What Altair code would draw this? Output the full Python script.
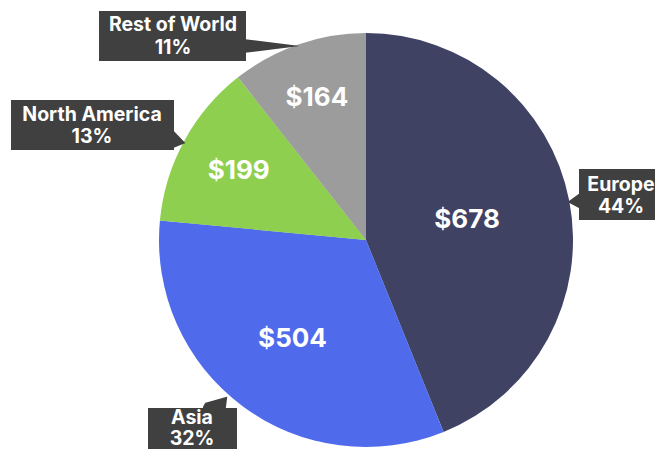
import math
import altair as alt
import pandas as pd

# ---- data ----
regions = ["Europe", "Asia", "North America", "Rest of World"]
sales = [678, 504, 199, 164]
value_labels = ["$678", "$504", "$199", "$164"]
percent_labels = ["44%", "32%", "13%", "11%"]
colors = ["#3f4263", "#4f6bec", "#8fcf4f", "#9c9c9c"]

# ---- layout (pixels, chart coordinates) ----
W, H = 647, 441
CX, CY, R = 358, 232, 207
value_label_radius = [103, 123, 145, 150]
box_x0 = [571, 140, 3, 91]
box_x1 = [663, 229, 166, 238]
box_y0 = [161, 400, 92, 3]
box_y1 = [212, 457, 142, 53]
text_x = [613, 184, 84, 165]
text_y1 = [177, 410, 107, 17]
text_y2 = [199, 431, 129, 40]
ptr_start = [(574, 193), (207, 403), (163, 132), (235, 38)]
ptr_width = [18, 25, 20, 14]
ptr_tip = [(560, 194), (219, 389), (177, 135), (290, 38)]

pie_df = pd.DataFrame({
    "region": regions,
    "sales": sales,
    "value_label": value_labels,
    "order": list(range(len(regions))),
    "lr": value_label_radius,
})
total = float(sum(sales))
cum = pie_df["sales"].cumsum() - pie_df["sales"] / 2.0
mid = cum / total * 2 * math.pi
pie_df["lx"] = CX + pie_df["lr"] * mid.apply(math.sin)
pie_df["ly"] = CY - pie_df["lr"] * mid.apply(math.cos)

box_df = pd.DataFrame({
    "region": regions,
    "x0": box_x0, "x1": box_x1, "y0": box_y0, "y1": box_y1,
    "tx": text_x, "ty1": text_y1, "ty2": text_y2,
    "pct": percent_labels,
})

ptr_rows = []
for i, reg in enumerate(regions):
    ptr_rows.append({"region": reg, "k": 0, "x": ptr_start[i][0], "y": ptr_start[i][1], "w": ptr_width[i]})
    ptr_rows.append({"region": reg, "k": 1, "x": ptr_tip[i][0], "y": ptr_tip[i][1], "w": 0.5})
ptr_df = pd.DataFrame(ptr_rows)

color_scale = alt.Scale(domain=regions, range=colors)

shadow_df = pd.DataFrame({"a": [0, 1], "r": [R + 4, R + 1.5], "op": [0.05, 0.09]})
shadow = alt.Chart(shadow_df).mark_circle(color="#000000", strokeWidth=0).encode(
    x=alt.value(CX),
    y=alt.value(CY + 2),
    size=alt.Size("s:Q", scale=None, legend=None),
    opacity=alt.Opacity("op:Q", scale=None, legend=None),
).transform_calculate(s="PI * datum.r * datum.r")

pie = alt.Chart(pie_df).mark_arc(outerRadius=R, strokeWidth=0).encode(
    x=alt.value(CX),
    y=alt.value(CY),
    theta=alt.Theta("sales:Q", stack=True),
    order=alt.Order("order:Q"),
    color=alt.Color("region:N", scale=color_scale, legend=None),
)

vals = alt.Chart(pie_df).mark_text(
    font="Inter", fontWeight="bold", fontSize=26, color="white",
    align="center", baseline="middle",
).encode(
    x=alt.X("lx:Q", scale=None, axis=None),
    y=alt.Y("ly:Q", scale=None, axis=None),
    text="value_label:N",
)

pointers = alt.Chart(ptr_df).mark_trail(color="#404040").encode(
    x=alt.X("x:Q", scale=None, axis=None),
    y=alt.Y("y:Q", scale=None, axis=None),
    size=alt.Size("w:Q", scale=None, legend=None),
    detail="region:N",
    order="k:Q",
)

boxes = alt.Chart(box_df).mark_rect(color="#404040").encode(
    x=alt.X("x0:Q", scale=None, axis=None),
    x2="x1:Q",
    y=alt.Y("y0:Q", scale=None, axis=None),
    y2="y1:Q",
)

line1 = alt.Chart(box_df).mark_text(
    font="Inter", fontWeight="bold", fontSize=19.5, color="white",
    align="center", baseline="middle",
).encode(
    x=alt.X("tx:Q", scale=None, axis=None),
    y=alt.Y("ty1:Q", scale=None, axis=None),
    text="region:N",
)

line2 = alt.Chart(box_df).mark_text(
    font="Inter", fontWeight="bold", fontSize=19.5, color="white",
    align="center", baseline="middle",
).encode(
    x=alt.X("tx:Q", scale=None, axis=None),
    y=alt.Y("ty2:Q", scale=None, axis=None),
    text="pct:N",
)

chart = alt.layer(shadow, pie, vals, pointers, boxes, line1, line2).properties(
    width=W, height=H, padding=0,
    autosize=alt.AutoSizeParams(type="none"),
).configure_view(strokeWidth=0, stroke="transparent")

chart.save("out.html", embed_options={"renderer": "svg", "actions": False})
